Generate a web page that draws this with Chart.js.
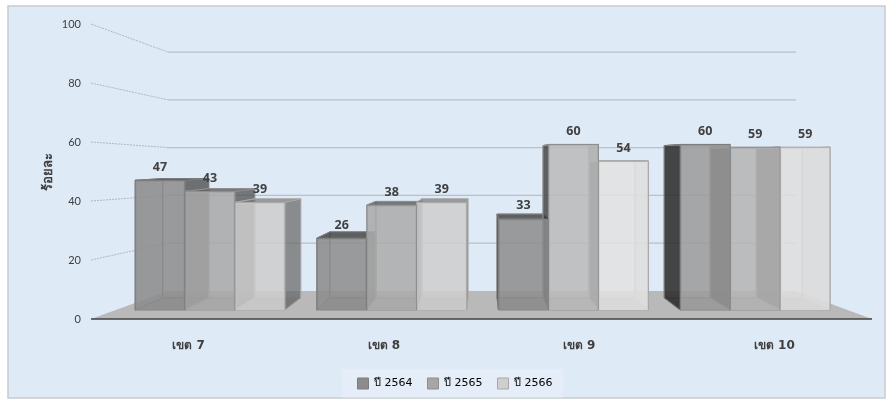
<!DOCTYPE html>
<html>
<head>
<meta charset="utf-8">
<title>ร้อยละ</title>
<script src="https://cdn.jsdelivr.net/npm/chart.js@4"></script>
<style>
  html, body { margin: 0; padding: 0; background: #fff; }
  canvas { display: block; }
</style>
</head>
<body>
<canvas id="myChart" width="887" height="401"></canvas>
<script>
const categories = ["เขต 7", "เขต 8", "เขต 9", "เขต 10"];
const seriesNames = ["ปี 2564", "ปี 2565", "ปี 2566"];
const values2564 = [47, 26, 33, 60];
const values2565 = [43, 38, 60, 59];
const values2566 = [39, 39, 54, 59];
const axisTicks = [0, 20, 40, 60, 80, 100];

// front face colour per series, one per category
const frontShades = [
  ["rgba(140,140,140,.85)", "rgba(140,140,140,.85)", "rgba(140,140,140,.85)", "rgba(154,154,154,.85)"],
  ["rgba(168,168,168,.85)", "rgba(170,170,170,.85)", "rgba(186,186,186,.85)", "rgba(180,180,180,.85)"],
  ["rgba(204,204,204,.85)", "rgba(206,206,206,.85)", "rgba(226,226,226,.85)", "rgba(222,222,222,.85)"],
];
const edgeColors = ["#7d7d7d", "#8e8e8e", "#a8a8a8"];
const legendColors = ["#8c8c8c", "#a6a6a6", "#cfcfcf"];
const leftOuter = ["rgba(40,40,40,.85)", "rgba(60,60,60,.8)", "rgba(80,80,80,.7)"];
const rightOuter = ["rgba(60,60,60,.7)", "rgba(70,70,70,.7)", "rgba(100,100,100,.7)"];
const rightInner = ["rgba(80,80,80,.6)", "rgba(110,110,110,.6)", "rgba(190,190,190,.5)"];
const topFaces = ["rgba(70,70,70,.85)", "rgba(90,90,90,.8)", "rgba(120,120,120,.7)"];

// the bars recede towards one point behind the middle of the floor
const vanishX = 481;
const vanishY = 159;
const depth = 0.92;

function toBack(x, y) {
  return [vanishX + depth * (x - vanishX), vanishY + depth * (y - vanishY)];
}

function fillFace(ctx, points, color, edge) {
  ctx.beginPath();
  ctx.moveTo(points[0][0], points[0][1]);
  for (let i = 1; i < points.length; i++) {
    ctx.lineTo(points[i][0], points[i][1]);
  }
  ctx.closePath();
  if (color) {
    ctx.fillStyle = color;
    ctx.fill();
  }
  if (edge) {
    ctx.strokeStyle = edge;
    ctx.lineWidth = 1;
    ctx.stroke();
  }
}

const panelPlugin = {
  id: "panel",
  afterLayout(chart) {
    // legend sits a little left of the plot centre
    chart.legend.left -= 1.5;
    chart.legend.right -= 1.5;
    chart.legend.top -= 2;
    chart.legend.bottom -= 2;
  },
  beforeDraw(chart) {
    const ctx = chart.ctx;
    ctx.save();
    ctx.fillStyle = "#deeaf6";
    ctx.fillRect(8, 6, 877, 392);
    ctx.strokeStyle = "#c8ccd0";
    ctx.lineWidth = 1.5;
    ctx.strokeRect(8, 6, 877, 392);
    // lighter strip behind the legend
    ctx.fillStyle = "rgba(255,255,255,.22)";
    ctx.fillRect(342, 369, 221, 29);
    ctx.restore();
  },
};

const wallPlugin = {
  id: "wall",
  beforeDatasetsDraw(chart) {
    const ctx = chart.ctx;
    const area = chart.chartArea;
    const yFront = chart.scales.y;
    const yBack = chart.scales.yBack;
    const backLeft = area.left + 77;
    const backRight = area.right - 76;
    ctx.save();

    // gridlines run flat along the back wall and slant out to the axis labels
    for (let i = 0; i < axisTicks.length; i++) {
      const v = axisTicks[i];
      if (v === 0) continue;
      ctx.strokeStyle = "#b4b8bc";
      ctx.lineWidth = 1;
      ctx.setLineDash([2, 1]);
      ctx.beginPath();
      ctx.moveTo(area.left, yFront.getPixelForValue(v));
      ctx.lineTo(backLeft, yBack.getPixelForValue(v));
      ctx.stroke();
      ctx.setLineDash([]);
      ctx.strokeStyle = "#b9c0c6";
      ctx.lineWidth = 1.4;
      ctx.beginPath();
      ctx.moveTo(backLeft, yBack.getPixelForValue(v));
      ctx.lineTo(backRight, yBack.getPixelForValue(v));
      ctx.stroke();
    }

    // floor
    fillFace(ctx, [
      [area.left, area.bottom],
      [backLeft, yBack.getPixelForValue(0)],
      [backRight, yBack.getPixelForValue(0)],
      [area.right, area.bottom],
    ], "#b9b9b9");
    ctx.strokeStyle = "#404040";
    ctx.lineWidth = 1.5;
    ctx.beginPath();
    ctx.moveTo(area.left, area.bottom);
    ctx.lineTo(area.right, area.bottom);
    ctx.stroke();

    // hidden faces first so they show through the translucent fronts
    for (let s = 0; s < chart.data.datasets.length; s++) {
      const bars = chart.getDatasetMeta(s).data;
      for (let j = 0; j < bars.length; j++) {
        const bar = bars[j];
        const left = bar.x - bar.width / 2;
        const right = bar.x + bar.width / 2;
        const topY = bar.y;
        const baseY = bar.base;
        const backTL = toBack(left, topY);
        const backTR = toBack(right, topY);
        const backBL = toBack(left, baseY);
        const backBR = toBack(right, baseY);
        const edge = edgeColors[s];

        fillFace(ctx, [backTL, backTR, backBR, backBL], null, edge);
        fillFace(ctx, [[left, baseY], [right, baseY], backBR, backBL], "rgba(110,110,110,.25)", edge);

        if (left > vanishX) {
          fillFace(ctx, [[left, topY], backTL, backBL, [left, baseY]], leftOuter[s], edge);
        } else {
          fillFace(ctx, [[left, topY], backTL, backBL, [left, baseY]], "rgba(150,150,150,.12)", edge);
        }
        if (right < vanishX) {
          fillFace(ctx, [[right, topY], backTR, backBR, [right, baseY]], rightOuter[s], edge);
        } else {
          fillFace(ctx, [[right, topY], backTR, backBR, [right, baseY]], rightInner[s], edge);
        }
        fillFace(ctx, [[left, topY], [right, topY], backTR, backTL], topFaces[s], edge);
      }
    }
    ctx.restore();
  },
  afterDatasetsDraw(chart) {
    // value labels above each bar
    const ctx = chart.ctx;
    ctx.save();
    ctx.font = 'bold 12.5px "Open Sans", sans-serif';
    ctx.fillStyle = "#404040";
    ctx.textAlign = "center";
    ctx.textBaseline = "middle";
    for (let s = 0; s < chart.data.datasets.length; s++) {
      const bars = chart.getDatasetMeta(s).data;
      for (let j = 0; j < bars.length; j++) {
        ctx.fillText(chart.data.datasets[s].data[j].y, bars[j].x, bars[j].y - 13);
      }
    }
    ctx.restore();
  },
};

function makeSeries(s, values) {
  const points = [];
  for (let i = 0; i < values.length; i++) {
    points.push({ x: i, y: values[i] });
  }
  return {
    label: seriesNames[s],
    data: points,
    xAxisID: "xBar",
    yAxisID: "yBar",
    backgroundColor: (c) => frontShades[s][c.dataIndex] || legendColors[s],
    borderColor: edgeColors[s],
    borderWidth: 1,
    barThickness: 50,
  };
}

const config = {
  type: "bar",
  data: {
    labels: categories,
    datasets: [
      makeSeries(0, values2564),
      makeSeries(1, values2565),
      makeSeries(2, values2566),
    ],
  },
  options: {
    responsive: false,
    animation: false,
    layout: { padding: { left: 41, right: 15, top: 24, bottom: 0 } },
    plugins: {
      tooltip: { enabled: false },
      legend: {
        position: "bottom",
        labels: {
          color: "#404040",
          font: { family: '"DejaVu Sans", sans-serif', size: 11 },
          boxWidth: 11,
          boxHeight: 11,
          padding: 15,
          generateLabels(chart) {
            return seriesNames.map((name, i) => ({
              text: name,
              fillStyle: legendColors[i],
              strokeStyle: edgeColors[i],
              lineWidth: 1,
              datasetIndex: i,
            }));
          },
        },
      },
    },
    scales: {
      x: {
        type: "category",
        grid: { display: false, drawTicks: false },
        border: { display: false },
        afterFit(scale) {
          scale.height = 46;
        },
        ticks: {
          padding: 20,
          color: "#404040",
          font: { family: '"DejaVu Sans", sans-serif', size: 12, weight: "bold" },
        },
      },
      // bar positions: four groups closer together than the axis labels
      xBar: { type: "linear", display: false, offset: false, min: -0.655, max: 3.643 },
      y: {
        type: "linear",
        min: 0,
        max: 100,
        afterFit(scale) {
          scale.width = 50;
        },
        grid: { display: false, drawTicks: false },
        border: { display: false },
        ticks: {
          stepSize: 20,
          padding: 10,
          color: "#404040",
          font: { family: "Lato, sans-serif", size: 11 },
        },
        title: {
          display: true,
          text: "ร้อยละ",
          color: "#404040",
          font: { family: '"DejaVu Sans", sans-serif', size: 13, weight: "bold" },
          padding: { top: 0, bottom: 0 },
        },
      },
      // front of the bars and the back wall sit on their own hidden scales
      yBar: { type: "linear", display: false, min: -3.27, max: 103.64 },
      yBack: { type: "linear", display: false, min: -11.76, max: 111.76 },
    },
  },
  plugins: [panelPlugin, wallPlugin],
};

const myChart = new Chart(document.getElementById("myChart"), config);
</script>
</body>
</html>
